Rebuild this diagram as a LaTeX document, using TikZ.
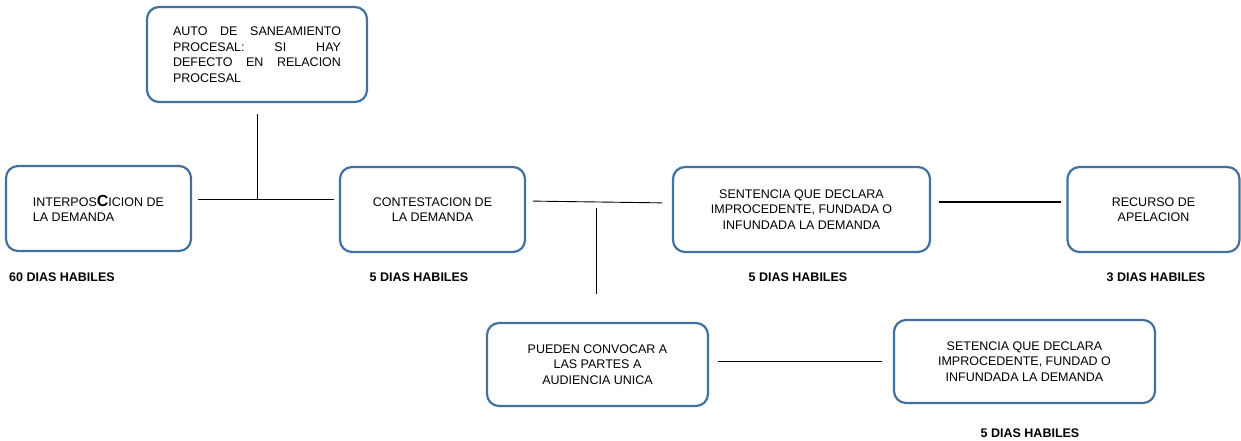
\documentclass[tikz,border=0pt]{standalone}
\usepackage{fontspec}
\setmainfont{Liberation Sans}
\definecolor{borde}{HTML}{41719C}

\begin{document}
\begin{tikzpicture}[x=1pt, y=-1pt]
    % 定义参数
    % caja: 圆角方框, 蓝色边框
    % dias: 方框下方的粗体天数
    % linea: 细连线
    \tikzset{
        caja/.style={draw=borde, line width=2.2pt, rounded corners=12pt, fill=white,
            font=\fontsize{12.5}{15.5}\selectfont, align=center, inner sep=0pt},
        dias/.style={font=\fontsize{12.5}{15}\selectfont\bfseries},
        linea/.style={black, line width=0.9pt}
    }

    % 画布大小: 1241 x 440
    \useasboundingbox (0,0) rectangle (1241,440);

    % 方框
    \node[caja, minimum width=185, minimum height=85, align=left] (interp) at (98.5,208.5)
        {INTERPOS{\fontsize{16}{15.5}\selectfont\bfseries C}ICION DE\\LA DEMANDA};
    \node[caja, minimum width=220, minimum height=95, text width=168, align=justify] (auto) at (257,54.5)
        {AUTO DE SANEAMIENTO\linebreak PROCESAL: SI HAY\linebreak DEFECTO EN RELACION\linebreak PROCESAL};
    \node[caja, minimum width=185, minimum height=85] (contest) at (432.5,209.5)
        {CONTESTACION DE\\LA DEMANDA};
    \node[caja, minimum width=257, minimum height=85] (sent) at (801.5,209.5)
        {SENTENCIA QUE DECLARA\\IMPROCEDENTE, FUNDADA O\\INFUNDADA LA DEMANDA};
    \node[caja, minimum width=172, minimum height=85] (recurso) at (1153.5,209.5)
        {RECURSO DE\\APELACION};
    \node[caja, minimum width=221, minimum height=83] (pueden) at (597.5,364.5)
        {PUEDEN CONVOCAR A\\LAS PARTES A\\AUDIENCIA UNICA};
    \node[caja, minimum width=261, minimum height=83] (setencia) at (1024.5,361.5)
        {SETENCIA QUE DECLARA\\IMPROCEDENTE, FUNDAD O\\INFUNDADA LA DEMANDA};

    % 天数
    \node[dias] (d1) at (62,277) {60 DIAS HABILES};
    \node[dias] (d2) at (419,277) {5 DIAS HABILES};
    \node[dias] (d3) at (798,277) {5 DIAS HABILES};
    \node[dias] (d4) at (1156,277) {3 DIAS HABILES};
    \node[dias] (d5) at (1030,433) {5 DIAS HABILES};

    % 连线
    \coordinate (j1) at (257,199);
    \coordinate (j2) at (596,208);
    \draw[linea, shorten <=6pt, shorten >=5pt] (interp.east |- j1) -- (contest.west |- j1);
    \draw[linea, shorten <=11pt] (auto.south) -- (j1);
    \draw[linea, shorten <=7pt, shorten >=10pt] ([yshift=8.5pt]contest.east) -- ([yshift=6.5pt]sent.west);
    \draw[linea, shorten >=28pt] (j2) -- (j2 |- pueden.north);
    \draw[linea, line width=2pt, shorten <=8pt, shorten >=5pt] ([yshift=7.5pt]sent.east) -- ([yshift=7.5pt]recurso.west);
    \draw[linea, shorten <=9pt, shorten >=11pt] ([yshift=3pt]pueden.east) -- (setencia.west);
\end{tikzpicture}
\end{document}
